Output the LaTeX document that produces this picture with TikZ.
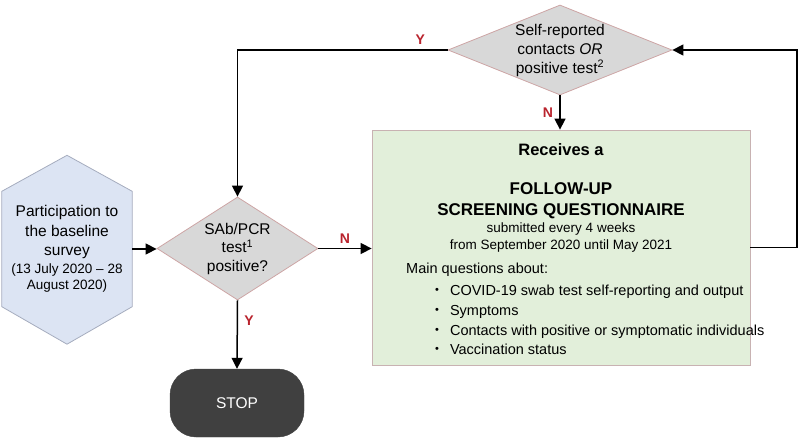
\documentclass[tikz,border=0pt]{standalone}
\usepackage{fontspec}
\setmainfont{Liberation Sans}
\usetikzlibrary{arrows.meta,shapes.geometric,calc,backgrounds}
\definecolor{hexblue}{RGB}{220,228,243}
\definecolor{hexline}{RGB}{165,172,190}
\definecolor{decgray}{RGB}{216,216,216}
\definecolor{decline}{RGB}{205,165,165}
\definecolor{boxgreen}{RGB}{226,239,218}
\definecolor{boxline}{RGB}{200,178,178}
\definecolor{stopgray}{RGB}{64,64,64}
\definecolor{ynred}{RGB}{185,35,45}
\newcommand{\fsz}[2]{\fontsize{#1}{#2}\selectfont}
\newcommand{\tpoint}{\raisebox{1.8pt}{\fsz{11}{11}\textbullet}\hspace{11pt}}
\tikzset{flow/.style={-{Triangle[length=11pt,width=11pt]},line width=1.5pt},
         decision/.style={diamond,draw=decline,fill=decgray,line width=.8pt,inner sep=0pt},
         yn/.style={text=ynred,font=\bfseries\fsz{14}{16}}}

\begin{document}
\begin{tikzpicture}[x=1pt,y=-1pt]
  \useasboundingbox (0,0) rectangle (800,441);
  % shapes
  \node[align=center,font=\fsz{15.5}{19.5},minimum width=130pt,minimum height=115pt] (base) at (67,249)
    {Participation to\\the baseline\\survey\\[-2pt]\fsz{13.5}{16}(13 July 2020 -- 28\\[-3.5pt]\fsz{13.5}{16}August 2020)};
  \begin{scope}[on background layer]
    \draw[fill=hexblue,draw=hexline,line width=.8pt] (base.north west) -- ($(base.north)+(0,-36)$)
      -- (base.north east) -- (base.south east) -- ($(base.south)+(0,37.5)$) -- (base.south west) -- cycle;
  \end{scope}
  \node[decision,minimum width=161pt,minimum height=103pt,
        label={[align=center,font=\fsz{15.5}{18.5}]center:SAb/PCR\\test\textsuperscript{1}\\positive?}] (test) at (237.5,248.5) {};
  \node[decision,minimum width=224pt,minimum height=90pt,
        label={[align=center,font=\fsz{15.5}{19}]center:Self-reported\\contacts \textit{OR}\\positive test\textsuperscript{2}}] (self) at (560,50) {};
  \node[draw=boxline,fill=boxgreen,line width=.8pt,minimum width=378pt,minimum height=235pt] (fq) at (561,247.5) {};
  \node[font=\bfseries\fsz{16.5}{20}] (recv) at (561,150) {Receives a};
  \node[align=center,font=\bfseries\fsz{17}{21}] (fu) at (561,200.5) {FOLLOW-UP\\SCREENING QUESTIONNAIRE};
  \node[align=center,font=\fsz{13.5}{17}] (subm) at (561,237.5) {submitted every 4 weeks\\from September 2020 until May 2021};
  \node[anchor=west,inner sep=0pt,font=\fsz{14.5}{17}] (mainq) at (406,270) {Main questions about:};
  \node[anchor=west,align=left,inner sep=0pt,font=\fsz{14.5}{19.7}] (topics) at (435,320)
    {\tpoint COVID-19 swab test self-reporting and output\\
     \tpoint Symptoms\\
     \tpoint Contacts with positive or symptomatic individuals\\
     \tpoint Vaccination status};
  \node[fill=stopgray,draw=stopgray,rounded corners=26pt,text=white,font=\fsz{15.5}{18},
        minimum width=134pt,minimum height=68pt] (stop) at (237,403) {STOP};
  \coordinate (loop) at (797,150);
  % connectors
  \draw[flow] (base.east) -- (base.east -| test.west);
  \draw[flow] (test.east) -- node[yn,above=1pt]{N} (test.east -| fq.west);
  \draw[flow] (test.south) -- node[yn,right=3pt,pos=.3]{Y} (stop.north);
  \draw[flow] (self.south) -- node[yn,left=3pt]{N} (self.south |- fq.north);
  \draw[flow] (self.west) -- node[yn,above=1pt,pos=.13]{Y} (self.west -| test.north) -- (test.north);
  \draw[flow] (fq.east) -| (loop) |- (self.east);
\end{tikzpicture}
\end{document}
